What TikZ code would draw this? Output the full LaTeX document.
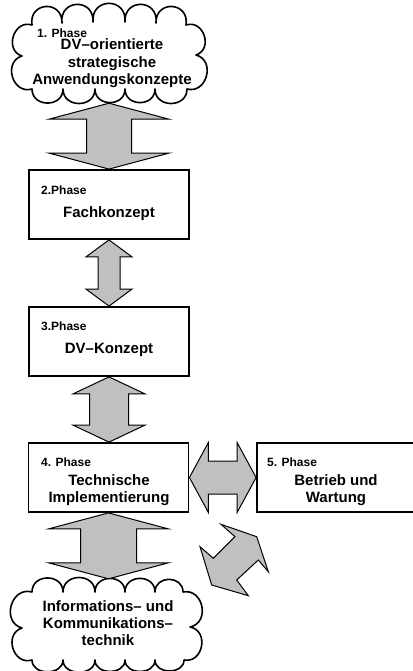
\documentclass[tikz,border=0pt]{standalone}
\usepackage{fontspec}
\setmainfont{Liberation Sans}
\usetikzlibrary{calc}
\definecolor{arrowgray}{RGB}{192,192,192}

% vertical fat double arrow: #1 upper tip, #2 lower tip, #3 half shaft, #4 half head, #5 head length
\newcommand\fatvert[5]{%
  \draw[fatarrow] let \p1=(#1), \p2=(#2) in
    (\x1,\y1) -- (\x1+#4pt,\y1-#5pt) -- (\x1+#3pt,\y1-#5pt) -- (\x1+#3pt,\y2+#5pt)
    -- (\x1+#4pt,\y2+#5pt) -- (\x1,\y2) -- (\x1-#4pt,\y2+#5pt) -- (\x1-#3pt,\y2+#5pt)
    -- (\x1-#3pt,\y1-#5pt) -- (\x1-#4pt,\y1-#5pt) -- cycle;}
% horizontal fat double arrow: #1 left tip, #2 right tip, #3 half shaft, #4 half head, #5 head length
\newcommand\fathoriz[5]{%
  \draw[fatarrow] let \p1=(#1), \p2=(#2) in
    (\x1,\y1) -- (\x1+#5pt,\y1+#4pt) -- (\x1+#5pt,\y1+#3pt) -- (\x2-#5pt,\y1+#3pt)
    -- (\x2-#5pt,\y1+#4pt) -- (\x2,\y1) -- (\x2-#5pt,\y1-#4pt) -- (\x2-#5pt,\y1-#3pt)
    -- (\x1+#5pt,\y1-#3pt) -- (\x1+#5pt,\y1-#4pt) -- cycle;}

\begin{document}
\begin{tikzpicture}[x=1pt,y=-1pt,
  phasebox/.style={draw, line width=1.8pt, minimum width=160pt, minimum height=69pt, inner sep=0pt},
  cloudcore/.style={minimum width=154pt, minimum height=66pt, inner sep=0pt},
  tag/.style={font=\bfseries\fontsize{12}{14}\selectfont, anchor=base west, inner sep=0pt},
  title/.style={font=\bfseries\fontsize{15}{17}\selectfont, align=center, anchor=base, inner sep=0pt},
  fatarrow/.style={draw, line width=1pt, fill=arrowgray, line join=miter},
  scallop/.style={line width=1.6pt, line join=round, line cap=round},
  topbump/.style={bend left=95, looseness=2},
  sidebump/.style={bend left=90, looseness=1.5},
  botbump/.style={bend left=90, looseness=1.55},
  lowbump/.style={bend left=90, looseness=1.3}
]
\useasboundingbox (0,0) rectangle (412,671);

% phase boxes
\node[phasebox] (p2) at (109,204.5) {};
\node[phasebox] (p3) at (109,341.5) {};
\node[phasebox] (p4) at (108.5,477.5) {};
\node[phasebox, minimum width=161pt] (p5) at (337.5,477.5) {};

% cloud cores
\node[cloudcore] (c1) at (109,56) {};
\node[cloudcore] (c2) at (108,626) {};

% cloud outlines
\begin{scope}[shift={(c1.center)}]
  \draw[scallop] (-77,-31) to[topbump] (-47,-33) to[topbump] (-16,-34) to[topbump] (16,-34)
    to[topbump] (47,-33) to[topbump] (77,-31)
    to[sidebump] (87,-1) to[sidebump] (78,33)
    to[botbump] (46,33) to[botbump] (16,33) to[botbump] (-14,33) to[botbump] (-46,33) to[botbump] (-77,33)
    to[sidebump] (-87,0) to[sidebump] (-77,-31);
\end{scope}
\begin{scope}[shift={(c2.center)}]
  \draw[scallop] (-76,-34) to[botbump] (-45,-34) to[botbump] (-13,-34) to[botbump] (17,-34)
    to[botbump] (47,-34) to[botbump] (75,-34)
    to[sidebump] (82,1) to[sidebump] (76,34)
    to[lowbump] (47,34) to[lowbump] (17,34) to[lowbump] (-13,34) to[lowbump] (-45,34) to[lowbump] (-76,34)
    to[sidebump] (-86,2) to[sidebump] (-76,-34);
\end{scope}

\coordinate (c1b) at ($(c1.south)+(0,14)$);
\coordinate (c2t) at ($(c2.north)+(0.5,-14)$);

% connecting double arrows
\fatvert{c1b}{p2.north}{22.5}{60}{16}
\fatvert{p2.south}{p3.north}{11}{23}{17}
\fatvert{p3.south}{p4.north}{19.5}{36}{17}
\fatvert{p4.south}{c2t}{28}{60}{16}
\fathoriz{p4.east}{p5.west}{16.5}{35}{19}

% tilted double arrow
\draw[fatarrow] (221,524.3) -- (256.7,536.7) -- (268.3,571.7) -- (258.3,560) -- (236.7,580)
  -- (248.3,595.7) -- (211.7,585) -- (200,546.7) -- (213.3,558.3) -- (235,536.7) -- cycle;

% texts (multi-line titles are placed by the baseline of their last line)
\node[tag] (t1) at (37,37.5) {1. Phase};
\node[title, font=\bfseries\fontsize{15}{17.5}\selectfont] (n1) at (112,85) {DV–orientierte\\strategische\\Anwendungskonzepte};
\node[tag] (t2) at (41,194) {2.Phase};
\node[title] (n2) at (109,217) {Fachkonzept};
\node[tag] (t3) at (41,330) {3.Phase};
\node[title] (n3) at (109,353) {DV–Konzept};
\node[tag] (t4) at (41,466) {4. Phase};
\node[title] (n4) at (109,502) {Technische\\Implementierung};
\node[tag] (t5) at (267,466) {5. Phase};
\node[title] (n5) at (336,502) {Betrieb und\\Wartung};
\node[title] (n6) at (108,645) {Informations– und\\Kommunikations–\\technik};
\end{tikzpicture}
\end{document}
